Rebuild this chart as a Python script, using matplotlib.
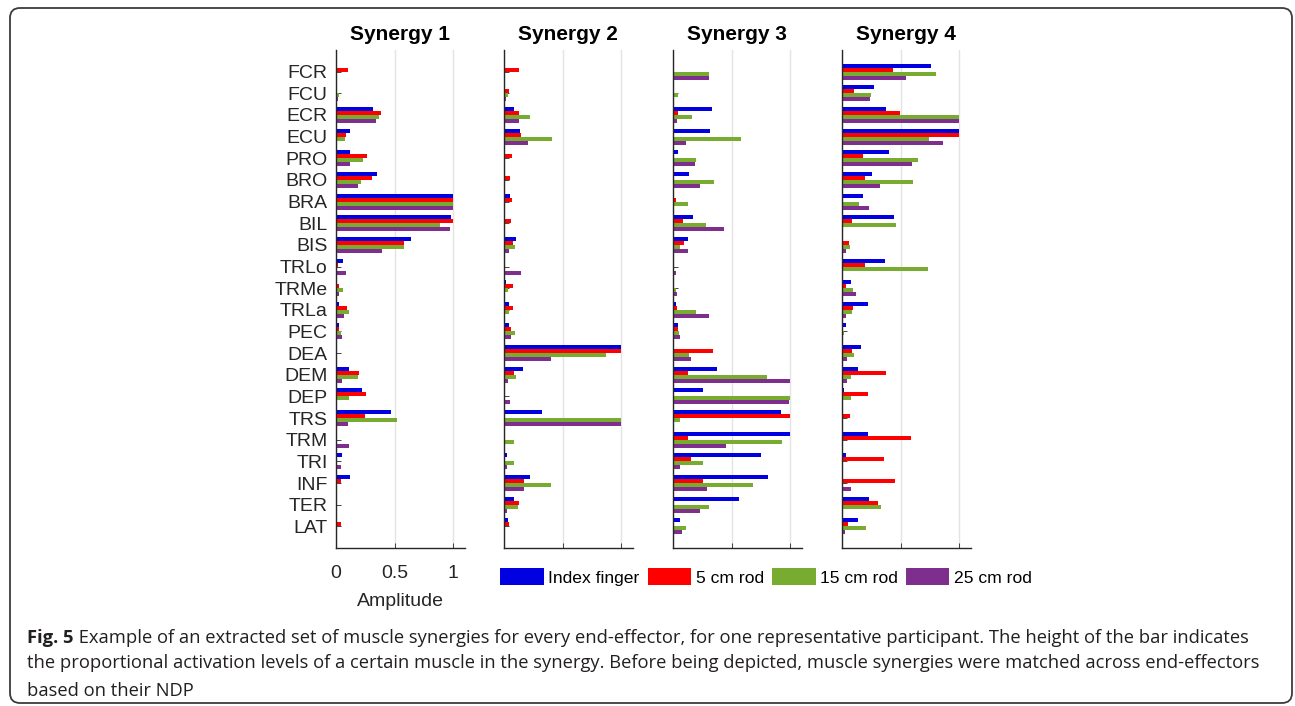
import numpy as np
import matplotlib
matplotlib.use("Agg")
import matplotlib.pyplot as plt
from matplotlib import font_manager
from matplotlib.patches import FancyBboxPatch, Patch
from matplotlib.transforms import IdentityTransform

muscles = ["FCR", "FCU", "ECR", "ECU", "PRO", "BRO", "BRA", "BIL", "BIS", "TRLo", "TRMe",
           "TRLa", "PEC", "DEA", "DEM", "DEP", "TRS", "TRM", "TRI", "INF", "TER", "LAT"]
titles = ["Synergy 1", "Synergy 2", "Synergy 3", "Synergy 4"]
conditions = ["Index finger", "5 cm rod", "15 cm rod", "25 cm rod"]
colors = ["#0000e0", "#ff0000", "#77ac30", "#7e2f8e"]
amp_ticks = [0, 0.5, 1]
amp_labels = ["0", "0.5", "1"]

# synergy 1
s1_index = [0, 0.005, 0.32, 0.12, 0.12, 0.35, 1.0, 0.986, 0.64, 0.06, 0.009,
            0.026, 0.026, 0.003, 0.11, 0.22, 0.47, 0.003, 0.05, 0.12, 0.003, 0.005]
s1_rod5 = [0.10, 0.005, 0.386, 0.086, 0.266, 0.31, 1.0, 1.0, 0.583, 0.017, 0.026,
           0.094, 0.026, 0.003, 0.20, 0.26, 0.25, 0.003, 0.003, 0.043, 0.003, 0.043]
s1_rod15 = [0, 0.026, 0.37, 0.077, 0.231, 0.214, 1.0, 0.891, 0.583, 0, 0.06,
            0.11, 0.043, 0.01, 0.19, 0.11, 0.523, 0, 0.01, 0.01, 0, 0]
s1_rod25 = [0, 0.017, 0.343, 0, 0.12, 0.189, 1.0, 0.977, 0.394, 0.086, 0.026,
            0.069, 0.05, 0, 0.05, 0, 0.103, 0.11, 0.043, 0, 0, 0]

# synergy 2
s2_index = [0, 0, 0.085, 0.137, 0, 0, 0.051, 0, 0.10, 0, 0.017,
            0.043, 0.043, 1.0, 0.16, 0, 0.325, 0, 0.026, 0.22, 0.085, 0.034]
s2_rod5 = [0.128, 0.043, 0.128, 0.145, 0.068, 0.051, 0.068, 0.06, 0.077, 0.009, 0.077,
           0.077, 0.06, 1.0, 0.085, 0.005, 0.005, 0.005, 0.005, 0.17, 0.128, 0.043]
s2_rod15 = [0, 0.034, 0.22, 0.41, 0.009, 0, 0.009, 0, 0.094, 0, 0.034,
            0.043, 0.094, 0.87, 0.10, 0, 1.0, 0.085, 0.085, 0.40, 0.12, 0.009]
s2_rod25 = [0, 0.017, 0.128, 0.205, 0, 0, 0.009, 0, 0.043, 0.145, 0,
            0, 0.06, 0.40, 0.034, 0.051, 1.0, 0, 0.026, 0.17, 0.026, 0.009]

# synergy 3
s3_index = [0, 0, 0.33, 0.32, 0.046, 0.14, 0, 0.167, 0.13, 0, 0,
            0.029, 0.046, 0, 0.38, 0.254, 0.92, 1.0, 0.755, 0.81, 0.565, 0.063]
s3_rod5 = [0.005, 0.01, 0.046, 0, 0, 0, 0.029, 0.089, 0.098, 0, 0,
           0.037, 0.046, 0.34, 0.124, 0.01, 1.0, 0.13, 0.15, 0.26, 0, 0]
s3_rod15 = [0.31, 0.046, 0.16, 0.58, 0.20, 0.35, 0.13, 0.28, 0.063, 0.005, 0.029,
            0.20, 0.055, 0.14, 0.80, 1.0, 0.063, 0.93, 0.26, 0.68, 0.31, 0.107]
s3_rod25 = [0.305, 0.01, 0.037, 0.107, 0.19, 0.23, 0, 0.44, 0.124, 0.029, 0.037,
            0.31, 0.063, 0.15, 1.0, 0.99, 0, 0.45, 0.063, 0.29, 0.23, 0.08]

# synergy 4
s4_index = [0.763, 0.274, 0.377, 1.0, 0.403, 0.257, 0.18, 0.446, 0, 0.369, 0.077,
            0.223, 0.034, 0.163, 0.137, 0.017, 0, 0.223, 0.034, 0.005, 0.231, 0.137]
s4_rod5 = [0.437, 0.103, 0.497, 1.0, 0.18, 0.197, 0, 0.086, 0.06, 0.197, 0.034,
           0.094, 0.005, 0.086, 0.377, 0.223, 0.069, 0.591, 0.36, 0.454, 0.309, 0.051]
s4_rod15 = [0.806, 0.249, 1.0, 0.746, 0.651, 0.609, 0.146, 0.463, 0.069, 0.737, 0.094,
            0.086, 0.017, 0.103, 0.077, 0.077, 0, 0, 0, 0.01, 0.334, 0.206]
s4_rod25 = [0.549, 0.24, 1.0, 0.866, 0.6, 0.326, 0.231, 0, 0.034, 0.005, 0.12,
            0.034, 0, 0.043, 0.043, 0, 0, 0, 0, 0.077, 0, 0.026]

synergies = [
    [s1_index, s1_rod5, s1_rod15, s1_rod25],
    [s2_index, s2_rod5, s2_rod15, s2_rod25],
    [s3_index, s3_rod5, s3_rod15, s3_rod25],
    [s4_index, s4_rod5, s4_rod15, s4_rod25],
]

caption_bold = "Fig. 5"
caption_lines = [
    " Example of an extracted set of muscle synergies for every end-effector, for one representative participant. The height of the bar indicates",
    "the proportional activation levels of a certain muscle in the synergy. Before being depicted, muscle synergies were matched across end-effectors",
    "based on their NDP",
]

W, H = 1295, 706
plt.rcParams["font.family"] = ["Liberation Sans", "DejaVu Sans"]
fig = plt.figure(figsize=(W / 100, H / 100), dpi=100)

# panel geometry in pixels
lefts = [336, 504, 673, 842]
ax_w = 128.7
top_px, bottom_px = 50, 548
axis_col = "#262626"

y = np.arange(1, len(muscles) + 1)
bar_h = 0.185
offsets = (np.arange(4) - 1.5) * bar_h

for k, (left, title) in enumerate(zip(lefts, titles)):
    ax = fig.add_axes([left / W, 1 - bottom_px / H, ax_w / W, (bottom_px - top_px) / H])
    for j, vals in enumerate(synergies[k]):
        ax.barh(y + offsets[j], vals, height=bar_h, color=colors[j], linewidth=0)
    ax.set_xlim(0, 1.1)
    ax.set_ylim(len(muscles) + 1, 0)
    ax.set_xticks(amp_ticks)
    ax.set_yticks(y)
    ax.set_axisbelow(True)
    ax.xaxis.grid(True, color="#e3e3e3", linewidth=1.0)
    for s in ["top", "right"]:
        ax.spines[s].set_visible(False)
    for s in ["left", "bottom"]:
        ax.spines[s].set_color(axis_col)
        ax.spines[s].set_linewidth(1.0)
    ax.tick_params(axis="both", direction="in", length=3.6, width=0.6, color=axis_col)
    ax.set_title(title, fontsize=15, fontweight="bold", pad=7)
    if k == 0:
        ax.set_yticklabels(muscles, fontsize=14, color="#262626")
        ax.set_xticklabels(amp_labels, fontsize=14, color="#262626")
        ax.tick_params(axis="y", pad=6)
        ax.tick_params(axis="x", pad=12)
        ax.set_xlabel("Amplitude", fontsize=14, color="#262626", labelpad=8)
    else:
        ax.tick_params(labelleft=False, labelbottom=False)

handles = [Patch(facecolor=c, edgecolor="none") for c in colors]
fig.legend(handles, conditions, loc="center", bbox_to_anchor=(766 / W, 1 - 577 / H),
           ncol=4, frameon=False, fontsize=12.6, handlelength=2.5, handleheight=1.09,
           handletextpad=0.25, columnspacing=0.45, borderpad=0, borderaxespad=0)

# rounded frame around the whole figure
frame = FancyBboxPatch((10, 3), 1282, 695, boxstyle="round,pad=0,rounding_size=10",
                       transform=IdentityTransform(), facecolor="none",
                       edgecolor="#3c3c3c", linewidth=1.3)
fig.patches.append(frame)

# caption, fitted to the reference line width
names = {f.name for f in font_manager.fontManager.ttflist}
cap_font = "Open Sans" if "Open Sans" in names else "DejaVu Sans"
cap_col = "#231f20"
renderer = fig.canvas.get_renderer()
probe = fig.text(0, 0, caption_lines[1], family=cap_font, fontsize=13.4,
                 transform=IdentityTransform())
wpx = probe.get_window_extent(renderer).width
probe.remove()
cap_size = 13.4 * 1239 / wpx

x0 = 27
baselines = [706 - 642.7, 706 - 668.5, 706 - 695.5]
b = fig.text(x0, baselines[0], caption_bold, family=cap_font, fontsize=cap_size,
             fontweight="bold", color=cap_col, va="baseline", transform=IdentityTransform())
bw = b.get_window_extent(renderer).width
fig.text(x0 + bw, baselines[0], caption_lines[0], family=cap_font, fontsize=cap_size,
         color=cap_col, va="baseline", transform=IdentityTransform())
for line, yb in zip(caption_lines[1:], baselines[1:]):
    fig.text(x0, yb, line, family=cap_font, fontsize=cap_size, color=cap_col,
             va="baseline", transform=IdentityTransform())

fig.savefig("out.png", dpi=100, facecolor="white")
